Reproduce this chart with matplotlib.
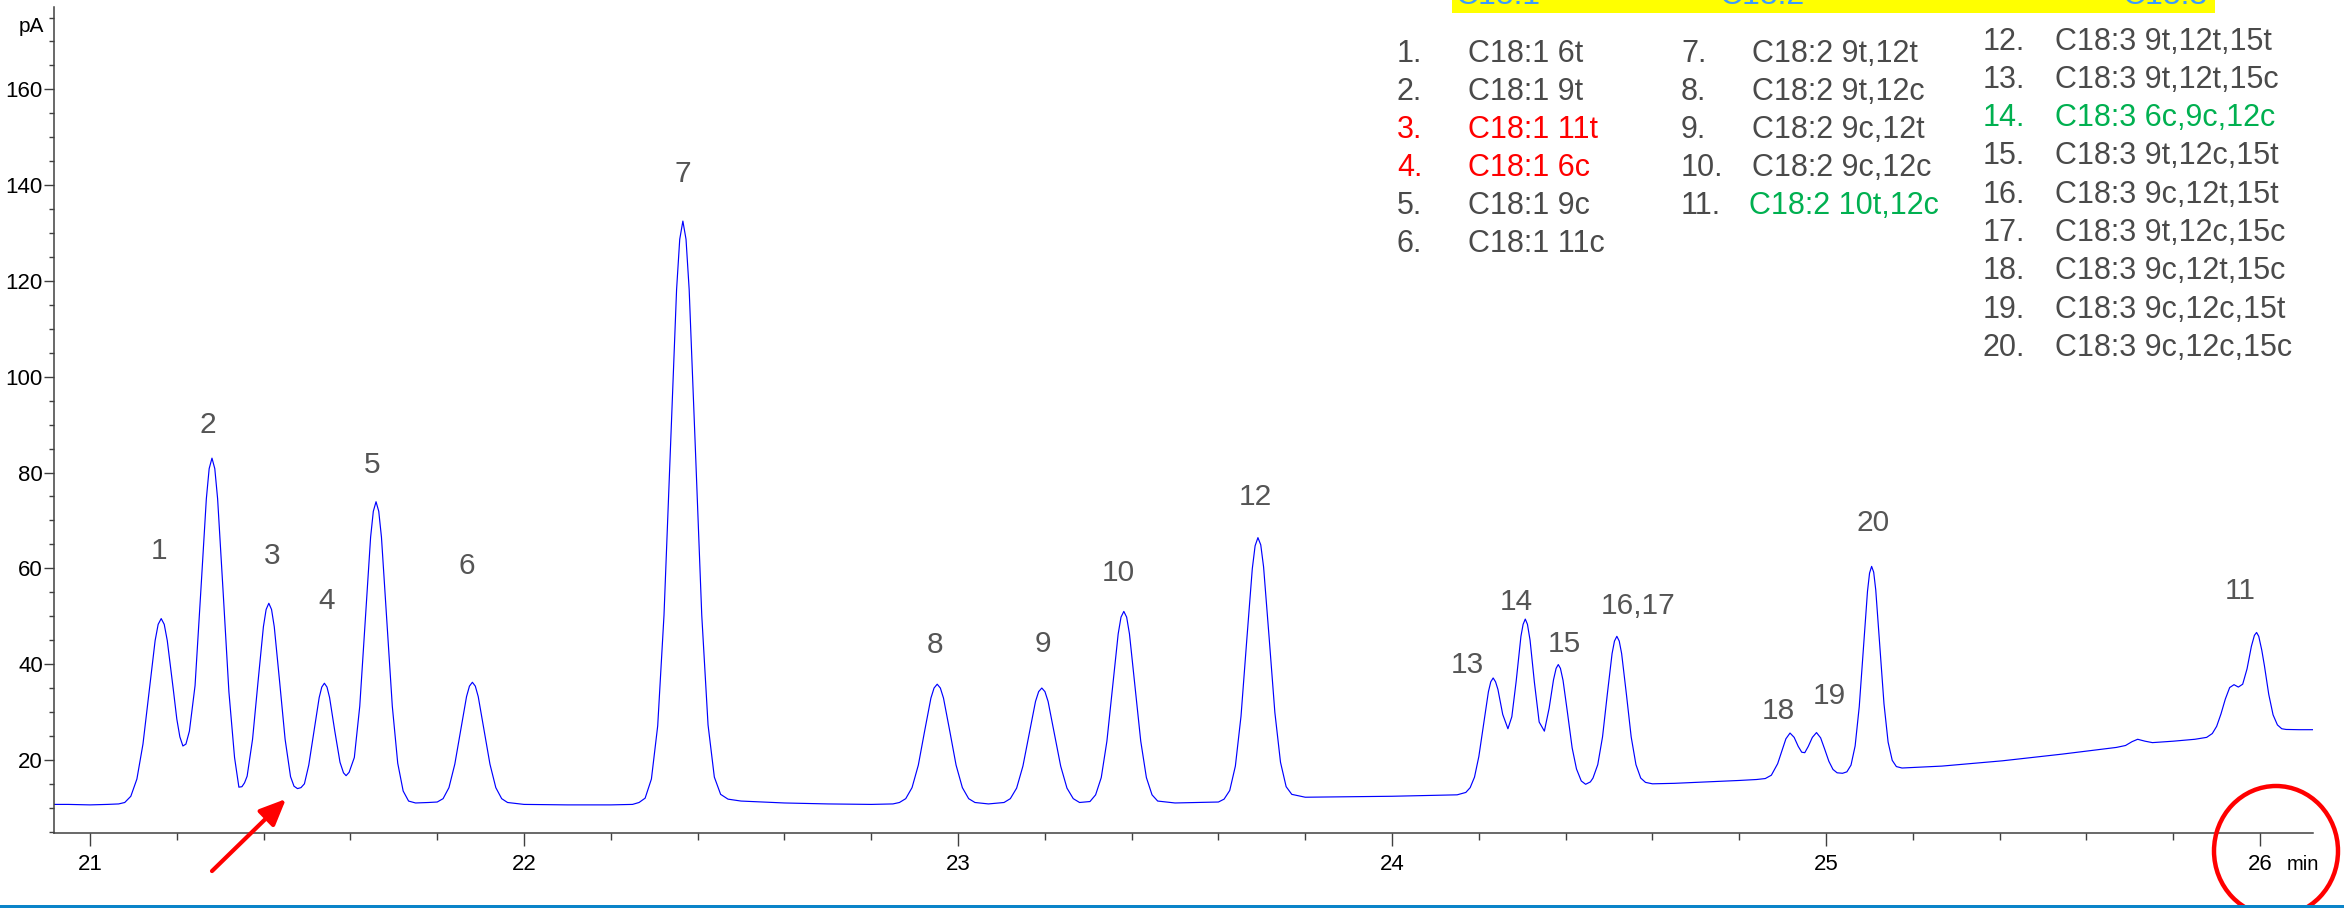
import matplotlib
matplotlib.use("Agg")
import matplotlib.pyplot as plt
from matplotlib.patches import Rectangle, Ellipse, FancyArrowPatch
from matplotlib.ticker import MultipleLocator

plt.rcParams['font.family'] = ['Liberation Sans', 'DejaVu Sans']

# ---------------- data ----------------
time_min = [
    # baseline, peaks 1-6
    20.917, 20.950, 21.000, 21.040, 21.066, 21.080, 21.094, 21.108, 21.122, 21.136,
    21.150, 21.157, 21.164, 21.171, 21.178, 21.192, 21.200, 21.207, 21.214, 21.221,
    21.229, 21.242, 21.255, 21.268, 21.2745, 21.281, 21.2875, 21.294, 21.307, 21.320,
    21.333, 21.343, 21.350, 21.356, 21.362, 21.3745, 21.387, 21.3995, 21.40575, 21.412,
    21.41825, 21.4245, 21.437, 21.4495, 21.462, 21.470, 21.478, 21.486, 21.494, 21.504,
    21.516, 21.528, 21.534, 21.540, 21.546, 21.552, 21.564, 21.576, 21.584, 21.590,
    21.597, 21.609, 21.6215, 21.634, 21.6465, 21.65275, 21.659, 21.66525, 21.6715, 21.684,
    21.6965, 21.709, 21.7215, 21.734, 21.750, 21.780, 21.800, 21.8135, 21.827, 21.8405,
    21.854, 21.8675, 21.87425, 21.881, 21.88775, 21.8945, 21.908, 21.9215, 21.935, 21.9485,
    21.962, 22.000, 22.100, 22.200, 22.250, 22.265,
    # peak 7
    22.279, 22.2935, 22.308, 22.3225, 22.337, 22.3515, 22.35875, 22.366, 22.37325, 22.3805,
    22.395, 22.4095, 22.424, 22.4385, 22.453, 22.470, 22.500, 22.600, 22.700, 22.800,
    22.850,
    # peaks 8, 9, 10
    22.865, 22.8795, 22.894, 22.9085, 22.923, 22.9375, 22.94475, 22.952, 22.95925, 22.9665,
    22.981, 22.9955, 23.010, 23.0245, 23.039, 23.070, 23.106, 23.1205, 23.135, 23.1495,
    23.164, 23.1785, 23.18575, 23.193, 23.20025, 23.2075, 23.222, 23.2365, 23.251, 23.2655,
    23.280, 23.304, 23.317, 23.330, 23.343, 23.356, 23.369, 23.3755, 23.382, 23.3885,
    23.395, 23.408, 23.421, 23.434, 23.447, 23.460, 23.500, 23.550, 23.600,
    # peak 12
    23.613, 23.626, 23.639, 23.652, 23.665, 23.678, 23.6845, 23.691, 23.6975, 23.704,
    23.717, 23.730, 23.743, 23.756, 23.769, 23.800, 23.900, 24.000, 24.100, 24.150,
    # peaks 13, 14, 15, 16-17
    24.170, 24.180, 24.190, 24.200, 24.211, 24.222, 24.2275, 24.233, 24.2385, 24.244,
    24.255, 24.267, 24.276, 24.286, 24.297, 24.302, 24.307, 24.312, 24.318, 24.328,
    24.339, 24.351, 24.362, 24.372, 24.378, 24.383, 24.388, 24.394, 24.404, 24.415,
    24.425, 24.436, 24.446, 24.457, 24.463, 24.474, 24.485, 24.496, 24.507, 24.5125,
    24.518, 24.5235, 24.529, 24.540, 24.551, 24.562, 24.573, 24.584, 24.600, 24.650,
    24.700, 24.750, 24.800, 24.840,
    # peaks 18, 19, 20
    24.860, 24.874, 24.8885, 24.898, 24.9075, 24.917, 24.9265, 24.936, 24.944, 24.951,
    24.959, 24.9685, 24.978, 24.9875, 24.997, 25.0065, 25.016, 25.0255, 25.038, 25.048,
    25.0575, 25.067, 25.0765, 25.086, 25.0955, 25.10025, 25.105, 25.10975, 25.1145, 25.124,
    25.1335, 25.143, 25.1525, 25.162, 25.175,
    # rising baseline, peak 11
    25.267, 25.406, 25.544, 25.669, 25.690, 25.705, 25.718, 25.735, 25.752, 25.800,
    25.850, 25.877, 25.890, 25.900, 25.910, 25.920, 25.930, 25.940, 25.950, 25.960,
    25.970, 25.980, 25.987, 25.992, 25.997, 26.004, 26.010, 26.020, 26.030, 26.040,
    26.050, 26.060, 26.090, 26.122,
]
signal_pA = [
    # baseline, peaks 1-6
    10.7, 10.7, 10.6, 10.7, 10.8, 11.1, 12.4, 16.0, 23.3, 34.2,
    44.9, 48.3, 49.5, 48.3, 44.9, 34.6, 28.5, 24.8, 22.9, 23.3,
    26.0, 35.5, 54.8, 74.5, 80.8, 83.0, 80.8, 74.5, 54.6, 34.2,
    20.5, 14.3, 14.4, 15.2, 16.6, 24.3, 36.2, 47.8, 51.4, 52.7,
    51.4, 47.8, 36.2, 24.3, 16.5, 14.5, 14.0, 14.2, 15.0, 18.9,
    26.0, 33.0, 35.2, 36.0, 35.2, 33.0, 26.0, 19.5, 17.3, 16.7,
    17.4, 20.5, 31.2, 49.0, 66.5, 71.9, 73.9, 71.9, 66.5, 49.0,
    31.2, 19.3, 13.5, 11.4, 11.0, 11.1, 11.2, 11.9, 14.2, 19.1,
    26.2, 33.2, 35.4, 36.2, 35.4, 33.2, 26.2, 19.1, 14.2, 11.9,
    11.1, 10.7, 10.6, 10.6, 10.7, 11.1,
    # peak 7
    12.0, 16.0, 27.1, 50.2, 84.5, 118.2, 128.7, 132.5, 128.7, 118.2,
    84.5, 50.2, 27.3, 16.4, 12.8, 11.8, 11.4, 11.0, 10.8, 10.7,
    10.8,
    # peaks 8, 9, 10
    11.1, 11.9, 14.2, 18.9, 26.0, 32.9, 35.0, 35.8, 35.0, 32.9,
    26.0, 18.9, 14.2, 11.9, 11.1, 10.8, 11.1, 11.9, 14.1, 18.7,
    25.5, 32.2, 34.25, 35.0, 34.25, 32.2, 25.5, 18.7, 14.1, 11.9,
    11.1, 11.3, 12.7, 16.3, 23.9, 35.2, 46.3, 49.8, 51.0, 49.8,
    46.3, 35.2, 23.9, 16.3, 12.7, 11.4, 11.0, 11.1, 11.2,
    # peak 12
    11.8, 13.6, 18.7, 29.1, 44.7, 59.9, 64.7, 66.4, 64.9, 60.3,
    45.3, 29.9, 19.5, 14.4, 12.8, 12.2, 12.3, 12.4, 12.6, 12.7,
    # peaks 13, 14, 15, 16-17
    13.2, 14.2, 16.4, 20.7, 27.5, 34.2, 36.3, 37.1, 36.3, 34.7,
    29.5, 26.5, 29.0, 36.4, 45.8, 48.3, 49.4, 48.3, 45.0, 36.2,
    27.9, 26.0, 30.8, 36.7, 39.1, 39.9, 39.1, 36.6, 30.0, 22.5,
    18.1, 15.6, 14.9, 15.4, 16.2, 19.0, 24.8, 33.7, 42.2, 44.8,
    45.8, 44.8, 42.2, 33.7, 24.8, 19.0, 16.2, 15.3, 15.0, 15.1,
    15.3, 15.5, 15.7, 15.9,
    # peaks 18, 19, 20
    16.1, 16.8, 19.2, 21.8, 24.4, 25.6, 24.7, 22.8, 21.6, 21.5,
    22.8, 24.7, 25.7, 24.6, 22.2, 19.7, 18.0, 17.3, 17.2, 17.5,
    18.9, 22.9, 31.1, 43.2, 55.2, 59.0, 60.4, 59.2, 55.5, 43.7,
    31.7, 23.7, 19.9, 18.6, 18.3,
    # rising baseline, peak 11
    18.7, 19.8, 21.2, 22.6, 23.0, 23.8, 24.3, 23.9, 23.6, 23.9,
    24.3, 24.7, 25.5, 27.0, 29.6, 32.7, 35.1, 35.7, 35.2, 35.8,
    39.0, 43.7, 46.0, 46.6, 45.8, 42.9, 39.7, 33.7, 29.4, 27.3,
    26.5, 26.35, 26.3, 26.3,
]

peak_labels = ["1", "2", "3", "4", "5", "6", "7", "8", "9", "10", "12",
               "13", "14", "15", "16,17", "18", "19", "20", "11"]
label_time = [21.159, 21.271, 21.419, 21.546, 21.650, 21.869, 22.366, 22.947, 23.195,
              23.369, 23.685, 24.173, 24.286, 24.396, 24.566, 24.890, 25.007, 25.108, 25.954]
label_pA = [64.2, 90.4, 63.2, 53.8, 82.0, 61.1, 142.8, 44.5, 44.7,
            59.5, 75.4, 40.4, 53.5, 44.7, 52.6, 30.7, 33.9, 70.0, 55.8]

group_headers = ["C18:1", "C18:2", "C18:3"]

legend_numbers = ["1.", "2.", "3.", "4.", "5.", "6.", "7.", "8.", "9.", "10.",
                  "11.", "12.", "13.", "14.", "15.", "16.", "17.", "18.", "19.", "20."]
legend_names = ["C18:1 6t", "C18:1 9t", "C18:1 11t", "C18:1 6c", "C18:1 9c", "C18:1 11c",
                "C18:2 9t,12t", "C18:2 9t,12c", "C18:2 9c,12t", "C18:2 9c,12c", "C18:2 10t,12c",
                "C18:3 9t,12t,15t", "C18:3 9t,12t,15c", "C18:3 6c,9c,12c", "C18:3 9t,12c,15t",
                "C18:3 9c,12t,15t", "C18:3 9t,12c,15c", "C18:3 9c,12t,15c", "C18:3 9c,12c,15t",
                "C18:3 9c,12c,15c"]
legend_highlight = ["", "", "red", "red", "", "", "", "", "", "", "green",
                    "", "", "green", "", "", "", "", "", ""]

x_ticks = [21, 22, 23, 24, 25, 26]
y_ticks = [20, 40, 60, 80, 100, 120, 140, 160]

# ---------------- figure ----------------
W, H = 2344, 908
fig = plt.figure(figsize=(W / 100, H / 100), dpi=100)
fig.patch.set_facecolor("white")


def fx(px):
    return px / W


def fy(py):
    return 1 - py / H


ax = fig.add_axes([fx(54), fy(833), (2313 - 54) / W, (833 - 7) / H])
ax.plot(time_min, signal_pA, color="#0000ff", lw=0.85, solid_joinstyle="round")
ax.set_xlim(20.917, 26.122)
ax.set_ylim(4.73, 177.2)

for s in ["top", "right"]:
    ax.spines[s].set_visible(False)
for s in ["left", "bottom"]:
    ax.spines[s].set_color("#404040")
    ax.spines[s].set_linewidth(1.1)

ax.set_xticks(x_ticks)
ax.set_xticklabels([str(v) for v in x_ticks])
ax.set_yticks(y_ticks)
ax.set_yticklabels([str(v) for v in y_ticks])
ax.xaxis.set_minor_locator(MultipleLocator(0.2))
ax.yaxis.set_minor_locator(MultipleLocator(5))
ax.tick_params(axis="x", which="major", direction="out", length=9, width=1.0,
               color="#404040", labelsize=16, pad=6, labelcolor="black")
ax.tick_params(axis="x", which="minor", direction="out", length=5, width=1.0, color="#404040")
ax.tick_params(axis="y", which="major", direction="out", length=7.5, width=1.0,
               color="#404040", labelsize=16, pad=0.5, labelcolor="black")
ax.tick_params(axis="y", which="minor", direction="out", length=3.5, width=1.0, color="#404040")

# unit labels
ax.annotate("pA", xy=(0, 172), xycoords=("axes fraction", "data"),
            xytext=(-7.5, 0), textcoords="offset points", ha="right", va="baseline",
            fontsize=15, color="black")
ax.annotate("min", xy=(26, 0), xycoords=("data", "axes fraction"),
            xytext=(19, -26.6), textcoords="offset points", ha="left", va="baseline",
            fontsize=14.5, color="black", annotation_clip=False)

# peak labels
for lab, t, v in zip(peak_labels, label_time, label_pA):
    ax.text(t, v - 2.2, lab, ha="center", va="baseline", fontsize=21.5, color="#555555")

# yellow header band (clipped at the top of the image, as in the original)
fig.add_artist(Rectangle((fx(1452), fy(13)), (2215 - 1452) / W, 13 / H,
                         transform=fig.transFigure, facecolor="#ffff00", edgecolor="none", zorder=1))
for txt, cx in zip(group_headers, [1498, 1762, 2165]):
    fig.text(fx(cx), fy(4.5), txt, ha="center", va="baseline", fontsize=23,
             color="#3a9bff", zorder=2)

# legend list
color_map = {"": "#4a4a4a", "red": "#ff0000", "green": "#00b050"}
for i, (num, name, hl) in enumerate(zip(legend_numbers, legend_names, legend_highlight)):
    if i < 6:
        xn, xt, yb = 1397, 1468, 62 + 38.0 * i
    elif i < 11:
        xn, xt, yb = 1681, 1752, 62 + 38.0 * (i - 6)
        if hl == "green":
            xt = 1749
    else:
        xn, xt, yb = 1983, 2055, 49.5 + 38.3 * (i - 11)
    fig.text(fx(xn), fy(yb), num, ha="left", va="baseline", fontsize=22,
             color=color_map[hl] if i != 10 else "#4a4a4a")
    fig.text(fx(xt), fy(yb), name, ha="left", va="baseline", fontsize=22,
             color=color_map[hl])

# red annotation circle and arrow
fig.add_artist(Ellipse((fx(2276), fy(851)), 124 / W, 130 / H, transform=fig.transFigure,
                       fill=False, edgecolor="#ff0000", lw=3.2, zorder=5, clip_on=False))
fig.add_artist(FancyArrowPatch((fx(210), fy(873)), (fx(288), fy(797)),
                               transform=fig.transFigure,
                               arrowstyle="-|>,head_length=0.8,head_width=0.35",
                               mutation_scale=20, color="#ff0000", lw=3.0, zorder=5))

# blue line at the bottom of the image
fig.add_artist(Rectangle((0, 0), 1, 3.5 / H, transform=fig.transFigure,
                         facecolor="#0a84c9", edgecolor="none", zorder=6))

fig.savefig("out.png", dpi=100, facecolor="white")
